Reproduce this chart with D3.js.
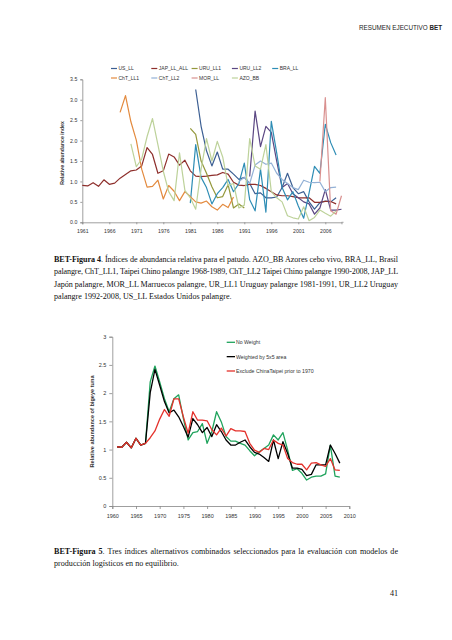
<!DOCTYPE html>
<html><head><meta charset="utf-8">
<script src="https://cdn.jsdelivr.net/npm/d3@7"></script>
<style>
html,body{margin:0;padding:0;background:#fff;}
svg{display:block;}
</style></head>
<body>
<svg id="page" width="452" height="640"></svg>
<script>
// ---------- DATA: Figure 4 ----------
const topYearTicks = [1961,1966,1971,1976,1981,1986,1991,1996,2001,2006];
const topValueTicks = [0,0.5,1,1.5,2,2.5,3,3.5];
const seriesNames = ["US_LL","JAP_LL_ALL","URU_LL1","URU_LL2","BRA_LL","ChT_LL1","ChT_LL2","MOR_LL","AZO_BB"];
const seriesColors = ["#3C5F93","#8E2F2C","#94983C","#5B4783","#2E8DB5","#E38A3E","#93B1D6","#D9908F","#BDD29A"];
const usLLStart = 1982;
const usLL = [3.25,2.35,1.75,1.38,1.72,1.3,1.3,1.18,1.05,1.1,0.95,0.7,0.72,0.6,0.6,0.62,0.85,1.2,0.85,0.7,0.75,0.5,0.32,0.48,0.52,0.5,0.6];
const japLLStart = 1961;
const japLL = [0.905,0.89,0.97,0.88,1.04,0.93,0.96,1.08,1.17,1.26,1.28,1.38,1.83,1.66,1.2,1.26,1.67,1.6,1.4,1.52,1.26,1.13,1.12,1.13,1.15,1.16,1.22,1.18,0.98,0.91,0.9,0.93,0.93,0.9,0.83,0.75,0.67,0.65,0.65,0.63,0.6,0.6,0.6,0.49,0.49,0.51,0.51,0.45];
const uruLL1Start = 1981;
const uruLL1 = [2.3,2.15,1.5,1.2,0.87,0.6,0.63,0.92,0.35,0.45,0.35];
const uruLL2Start = 1992;
const uruLL2 = [1.12,2.72,1.85,2.35,2.2,1.5,0.85,0.95,0.7,0.6,0.5,0.45,0.2,0.35,0.8,0.3,0.3,0.32];
const braLLStart = 1981;
const braLL = [0.47,1.9,1.1,0.85,0.45,0.7,0.85,1.05,0.75,0.95,1.45,0.55,0.28,1.3,0.25,2.47,1.7,0.85,0.55,0.75,0.4,0.1,0.72,1.37,1.2,2.4,1.95,1.65];
const chtLL1Start = 1968;
const chtLL1 = [2.69,3.1,2.46,2.01,1.3,0.86,0.88,1.03,0.57,0.9,0.76,0.53,0.75,0.63,0.5,0.47,0.52,0.38,0.3,0.44,0.36,0.62];
const chtLL2Start = 1990;
const chtLL2 = [1.0,1.1,0.95,1.4,1.5,1.42,1.45,1.2,1.05,0.95,0.85,0.8,1.03,0.98,0.97,0.98,0.75,0.85,0.86];
const morLLStart = 2005;
const morLL = [1.0,3.05,0.28,0.2,0.65];
const azoBBStart = 1970;
const azoBB = [1.92,1.36,1.55,2.1,2.54,1.9,1.25,0.75,0.53,1.7,0.78,0.6,0.32,1.3,2.05,1.5,1.98,1.6,0.9,0.95,0.35,0.42,2.05,1.38,1.3,1.9,0.75,0.6,0.5,0.16,0.11,0.08,0.38,0.04,0.12,0.3,0.22,0.15,0.28];

// ---------- DATA: Figure 5 ----------
const botStart = 1961;
const botYearTicks = [1960,1965,1970,1975,1980,1985,1990,1995,2000,2005,2010];
const botValueTicks = [0,0.5,1,1.5,2,2.5,3];
const botNames = ["No Weight","Weighted by 5x5 area","Exclude ChinaTaipei prior to 1970"];
const botColors = ["#1FA35C","#000000","#E4312B"];
const noWeight = [1.05,1.04,1.13,1.03,1.2,1.08,1.11,2.2,2.48,2.2,1.9,1.67,1.9,1.97,1.55,1.17,1.3,1.32,1.46,1.11,1.32,1.67,1.49,1.23,1.15,1.15,1.11,1.08,0.98,0.89,0.96,1.02,1.08,1.26,1.17,1.3,0.99,0.63,0.66,0.58,0.46,0.51,0.53,0.53,0.57,1.08,0.53,0.51];
const weighted = [1.05,1.04,1.13,1.03,1.2,1.08,1.11,2.01,2.42,2.14,1.85,1.65,1.7,1.58,1.41,1.22,1.55,1.44,1.3,1.39,1.23,1.44,1.32,1.17,1.08,1.08,1.13,1.17,1.05,0.95,0.92,0.86,0.79,1.17,0.84,1.14,0.93,0.67,0.67,0.65,0.54,0.56,0.73,0.73,0.73,1.08,0.93,0.76];
const excludeCT = [1.05,1.04,1.13,1.03,1.2,1.08,1.11,1.21,1.33,1.54,1.71,1.59,1.9,1.9,1.58,1.29,1.67,1.52,1.52,1.51,1.35,1.26,1.38,1.24,1.37,1.33,1.33,1.32,1.11,0.99,0.95,1.02,1.0,1.17,1.11,1.08,0.84,0.77,0.74,0.74,0.64,0.76,0.77,0.73,0.7,0.84,0.64,0.63];

// ---------- TEXT ----------
const header = ["RESUMEN EJECUTIVO ", "BET"];
const cap4Bold = "BET-Figura 4";
const cap4Lines = [
  ". Índices de abundancia relativa para el patudo. AZO_BB Azores cebo vivo, BRA_LL, Brasil",
  "palangre, ChT_LL1, Taipei Chino palangre 1968-1989, ChT_LL2 Taipei Chino palangre 1990-2008, JAP_LL",
  "Japón palangre, MOR_LL Marruecos palangre, UR_LL1 Uruguay palangre 1981-1991, UR_LL2 Uruguay",
  "palangre 1992-2008, US_LL Estados Unidos palangre."
];
const cap5Bold = "BET-Figura 5";
const cap5Lines = [
  ". Tres índices alternativos combinados seleccionados para la evaluación con modelos de",
  "producción logísticos en no equilibrio."
];
const pageNumber = "41";

const svg = d3.select("#page");
const sans = "'Liberation Sans', Arial, sans-serif";
const serif = "'Liberation Serif', 'Times New Roman', serif";
const axisGray = "#868686";

// header
const h = svg.append("text").attr("x", 442).attr("y", 30).attr("text-anchor","end")
  .attr("font-family", sans).attr("font-size", 6.3).attr("fill","#222");
h.append("tspan").text(header[0]);
h.append("tspan").attr("font-weight","bold").text(header[1]);

function toPoints(start, arr){ return arr.map((v,i)=>({year:start+i, v})); }

// ---------- Figure 4 ----------
const x1 = d3.scaleLinear().domain([1961, 2009]).range([82.3, 341.5]);
const y1 = d3.scaleLinear().domain([0, 3.5]).range([222.3, 79.3]);
const g1 = svg.append("g");

const yAx1 = g1.append("g").attr("transform","translate(82.3,0)")
  .call(d3.axisLeft(y1).tickValues(topValueTicks).tickFormat(d3.format(".1f")).tickSize(2).tickPadding(3));
const xAx1 = g1.append("g").attr("transform","translate(0,222.3)")
  .call(d3.axisBottom(x1).tickValues(topYearTicks).tickFormat(d3.format("d")).tickSize(2).tickPadding(5));
[yAx1, xAx1].forEach(a=>{
  a.select(".domain").attr("stroke", axisGray).attr("stroke-width",0.8);
  a.selectAll(".tick line").attr("stroke", axisGray).attr("stroke-width",0.8);
  a.selectAll("text").attr("font-family", sans).attr("font-size", 5.2).attr("fill","#333");
});
g1.append("line").attr("x1", x1(2009)).attr("x2", 343.5).attr("y1",222.3).attr("y2",222.3)
  .attr("stroke", axisGray).attr("stroke-width",0.8);

g1.append("text").attr("transform","translate(64,153) rotate(-90)")
  .attr("text-anchor","middle").attr("font-family", sans).attr("font-size",5.2).attr("font-weight","bold")
  .attr("fill","#333").text("Relative abundance index");

const topSeries = [
  toPoints(usLLStart, usLL), toPoints(japLLStart, japLL), toPoints(uruLL1Start, uruLL1),
  toPoints(uruLL2Start, uruLL2), toPoints(braLLStart, braLL), toPoints(chtLL1Start, chtLL1),
  toPoints(chtLL2Start, chtLL2), toPoints(morLLStart, morLL), toPoints(azoBBStart, azoBB)
];
const line1 = d3.line().x(d=>x1(d.year)).y(d=>y1(d.v));
g1.selectAll("path.s").data(topSeries).join("path").attr("class","s")
  .attr("d", line1).attr("fill","none")
  .attr("stroke",(d,i)=>seriesColors[i]).attr("stroke-width",1.2).attr("stroke-linejoin","round");

// legend
const leg1 = g1.append("g");
seriesNames.forEach((name,i)=>{
  const row = i < 5 ? 0 : 1;
  const col = i < 5 ? i : i-5;
  const lx = 111 + col*40.3;
  const ly = row === 0 ? 68.5 : 78;
  leg1.append("line").attr("x1",lx).attr("x2",lx+6).attr("y1",ly).attr("y2",ly)
    .attr("stroke",seriesColors[i]).attr("stroke-width",1.2);
  leg1.append("text").attr("x",lx+7.5).attr("y",ly+1.8).attr("font-family",sans)
    .attr("font-size",5).attr("fill","#333").text(name);
});

// ---------- Captions ----------
function justifiedLine(x, y, width, boldPart, text, justify){
  const t = svg.append("text").attr("x",x).attr("y",y).attr("font-family",serif)
    .attr("font-size",8.1).attr("fill","#111");
  if (boldPart) t.append("tspan").attr("font-weight","bold").text(boldPart);
  t.append("tspan").text(text);
  if (justify){
    const full = (boldPart||"") + text;
    const spaces = (full.match(/ /g)||[]).length;
    const w = t.node().getComputedTextLength();
    if (w <= width) {
      if (spaces>0) t.style("word-spacing", ((width - w)/spaces) + "px");
    } else {
      t.style("letter-spacing", ((width - w)/full.length) + "px");
    }
  }
  return t;
}
const capX = 54, capW = 344;
cap4Lines.forEach((ln,i)=>{
  justifiedLine(capX, 262 + i*12.3, capW, i===0?cap4Bold:null, ln, i<cap4Lines.length-1);
});
cap5Lines.forEach((ln,i)=>{
  justifiedLine(capX, 554 + i*12.3, capW, i===0?cap5Bold:null, ln, i<cap5Lines.length-1);
});
svg.append("text").attr("x",398).attr("y",596).attr("text-anchor","end").attr("font-family",serif)
  .attr("font-size",8.1).attr("fill","#111").text(pageNumber);

// ---------- Figure 5 ----------
const x2 = d3.scaleLinear().domain([1960, 2010]).range([112.3, 349.3]);
const y2 = d3.scaleLinear().domain([0, 3]).range([506, 336.7]);
const g2 = svg.append("g");
const yAx2 = g2.append("g").attr("transform","translate(112.3,0)")
  .call(d3.axisLeft(y2).tickValues(botValueTicks).tickFormat(d=>String(d)).tickSize(3).tickPadding(3));
const xAx2 = g2.append("g").attr("transform","translate(0,506)")
  .call(d3.axisBottom(x2).tickValues(botYearTicks).tickFormat(d3.format("d")).tickSize(3).tickPadding(5));
[yAx2, xAx2].forEach(a=>{
  a.select(".domain").attr("stroke", axisGray).attr("stroke-width",0.8);
  a.selectAll(".tick line").attr("stroke", axisGray).attr("stroke-width",0.8);
  a.selectAll("text").attr("font-family", sans).attr("font-size", 5.5).attr("fill","#333");
});
g2.append("text").attr("transform","translate(94,421.5) rotate(-90)")
  .attr("text-anchor","middle").attr("font-family", sans).attr("font-size",5.6).attr("font-weight","bold")
  .attr("fill","#333").text("Relative abundance of bigeye tuna");

const botSeries = [toPoints(botStart, noWeight), toPoints(botStart, weighted), toPoints(botStart, excludeCT)];
const line2 = d3.line().x(d=>x2(d.year)).y(d=>y2(d.v));
g2.selectAll("path.b").data(botSeries).join("path").attr("class","b")
  .attr("d", line2).attr("fill","none")
  .attr("stroke",(d,i)=>botColors[i]).attr("stroke-width",1.3).attr("stroke-linejoin","round");

botNames.forEach((name,i)=>{
  const ly = 342.3 + i*14.35;
  g2.append("line").attr("x1",226.7).attr("x2",235).attr("y1",ly).attr("y2",ly)
    .attr("stroke",botColors[i]).attr("stroke-width",1.3);
  g2.append("text").attr("x",236).attr("y",ly+1.9).attr("font-family",sans)
    .attr("font-size",5.2).attr("fill","#333").text(name);
});
</script>
</body></html>
